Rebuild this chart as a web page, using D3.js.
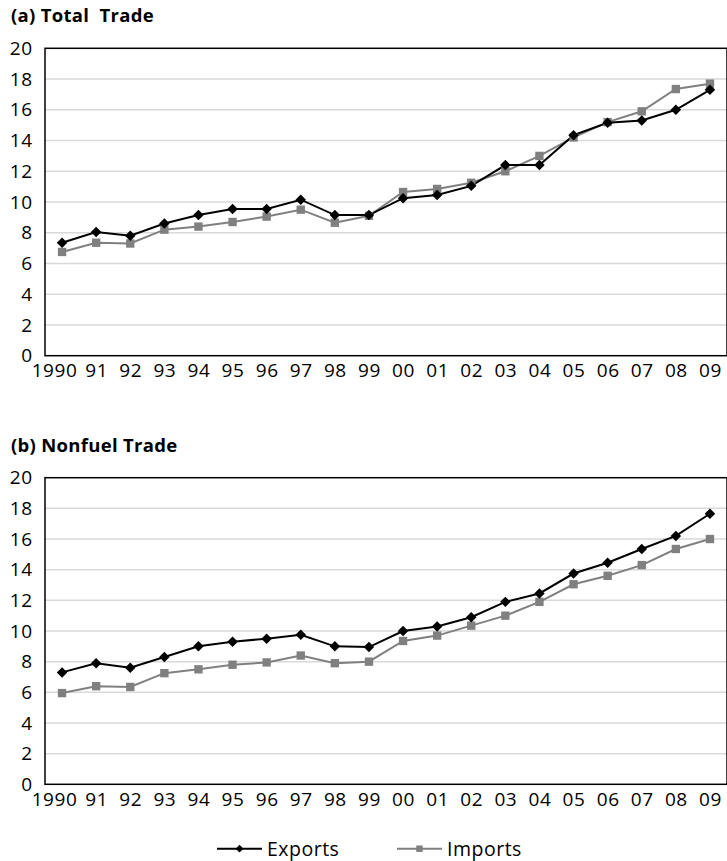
<!DOCTYPE html>
<html>
<head>
<meta charset="utf-8">
<script src="https://cdn.jsdelivr.net/npm/d3@7"></script>
<style>
  body { margin: 0; background: #fff; }
  text { font-family: "Open Sans", sans-serif; fill: #000; }
</style>
</head>
<body>
<script>
const svgWidth = 727
const svgHeight = 861

const years = ["1990", "91", "92", "93", "94", "95", "96", "97", "98", "99",
  "00", "01", "02", "03", "04", "05", "06", "07", "08", "09"]
const yTicks = [0, 2, 4, 6, 8, 10, 12, 14, 16, 18, 20]

const totalExports = [7.35, 8.05, 7.8, 8.6, 9.15, 9.55, 9.55, 10.15, 9.15, 9.15,
  10.25, 10.45, 11.05, 12.4, 12.4, 14.35, 15.15, 15.3, 16.0, 17.3]
const totalImports = [6.75, 7.35, 7.3, 8.2, 8.4, 8.7, 9.05, 9.5, 8.65, 9.1,
  10.65, 10.85, 11.25, 12.0, 13.0, 14.2, 15.2, 15.9, 17.35, 17.7]

const nonfuelExports = [7.3, 7.9, 7.6, 8.3, 9.0, 9.3, 9.5, 9.75, 9.0, 8.95,
  10.0, 10.3, 10.9, 11.9, 12.45, 13.75, 14.45, 15.35, 16.2, 17.65]
const nonfuelImports = [5.95, 6.4, 6.35, 7.25, 7.5, 7.8, 7.95, 8.4, 7.9, 8.0,
  9.35, 9.7, 10.35, 11.0, 11.9, 13.05, 13.6, 14.3, 15.35, 16.0]

const expColor = "#000000"
const impColor = "#808080"

const svg = d3.select("body").append("svg")
  .attr("width", svgWidth)
  .attr("height", svgHeight)

const x = d3.scalePoint()
  .domain(years)
  .range([45, 727])
  .padding(0.5)

const diamond = d3.symbol().type(d3.symbolSquare).size(55)
const square = d3.symbol().type(d3.symbolSquare).size(70)

function drawPanel(title, top, bottom, exports, imports) {
  const y = d3.scaleLinear().domain([0, 20]).range([bottom, top])
  const g = svg.append("g")

  g.append("text")
    .attr("x", 11)
    .attr("y", top - 26)
    .attr("font-weight", "bold")
    .attr("font-size", 18.5)
    .attr("letter-spacing", 0.3)
    .attr("xml:space", "preserve")
    .text(title)

  // gridlines
  g.selectAll(".grid")
    .data(yTicks.slice(1, -1))
    .enter().append("line")
    .attr("x1", 45).attr("x2", 727)
    .attr("y1", d => y(d)).attr("y2", d => y(d))
    .attr("stroke", "#d9d9d9")
    .attr("stroke-width", 1.5)

  // frame
  g.append("rect")
    .attr("x", 45).attr("y", top)
    .attr("width", 682).attr("height", bottom - top)
    .attr("fill", "none")
    .attr("stroke", "#000")
    .attr("stroke-width", 1.5)

  const yAxis = d3.axisLeft(y).tickValues(yTicks).tickSize(0).tickPadding(12)
  const ya = g.append("g").attr("transform", "translate(45,0)").call(yAxis)
  ya.select(".domain").remove()
  ya.selectAll("text").attr("font-size", 19).attr("letter-spacing", 0.8)
    .style("font-family", "'Open Sans', sans-serif")

  const xAxis = d3.axisBottom(x).tickSize(0).tickPadding(8)
  const xa = g.append("g").attr("transform", `translate(0,${bottom})`).call(xAxis)
  xa.select(".domain").remove()
  xa.selectAll("text").attr("font-size", 19).attr("letter-spacing", 0.6)
    .style("font-family", "'Open Sans', sans-serif")
    .attr("dx", d => d === "1990" ? -8 : 0)

  const line = d3.line()
    .x((d, i) => x(years[i]))
    .y(d => y(d))

  g.append("path")
    .attr("d", line(imports))
    .attr("fill", "none")
    .attr("stroke", impColor)
    .attr("stroke-width", 2)

  g.append("path")
    .attr("d", line(exports))
    .attr("fill", "none")
    .attr("stroke", expColor)
    .attr("stroke-width", 2)

  g.selectAll(".imp")
    .data(imports)
    .enter().append("path")
    .attr("d", square)
    .attr("transform", (d, i) => `translate(${x(years[i])},${y(d)})`)
    .attr("fill", impColor)

  g.selectAll(".exp")
    .data(exports)
    .enter().append("path")
    .attr("d", diamond)
    .attr("transform", (d, i) => `translate(${x(years[i])},${y(d)}) rotate(45)`)
    .attr("fill", expColor)
}

drawPanel("(a) Total  Trade", 48.3, 355.7, totalExports, totalImports)
drawPanel("(b) Nonfuel Trade", 477.7, 784.3, nonfuelExports, nonfuelImports)

// legend
const legend = svg.append("g").attr("transform", "translate(0,848.7)")
const items = [
  { name: "Exports", color: expColor, x0: 217, sym: d3.symbol().type(d3.symbolSquare).size(30), rot: 45 },
  { name: "Imports", color: impColor, x0: 397, sym: d3.symbol().type(d3.symbolSquare).size(42), rot: 0 }
]
items.forEach(it => {
  legend.append("line")
    .attr("x1", it.x0).attr("x2", it.x0 + 45)
    .attr("stroke", it.color).attr("stroke-width", 2)
  legend.append("path")
    .attr("d", it.sym)
    .attr("transform", `translate(${it.x0 + 22.5},0) rotate(${it.rot})`)
    .attr("fill", it.color)
  legend.append("text")
    .attr("x", it.x0 + 50)
    .attr("dy", "0.35em")
    .attr("font-size", 19.5)
    .attr("letter-spacing", 0.5)
    .text(it.name)
})
</script>
</body>
</html>
